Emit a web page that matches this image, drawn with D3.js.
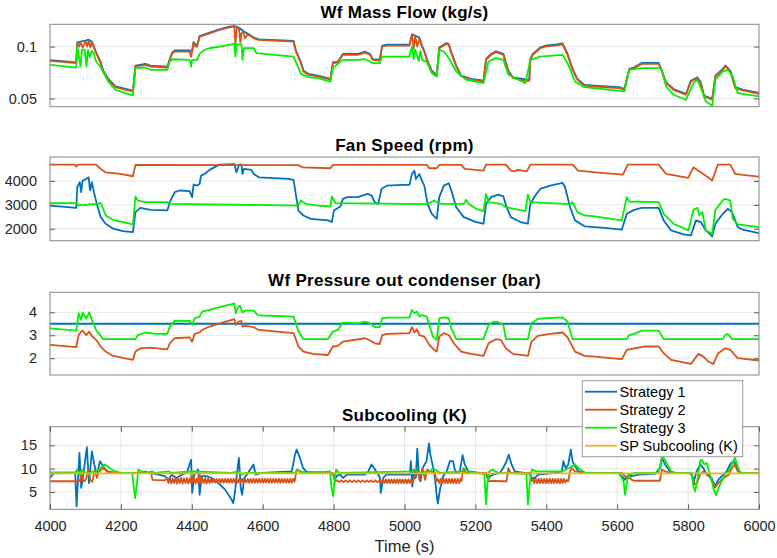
<!DOCTYPE html>
<html><head><meta charset="utf-8">
<script src="https://cdn.jsdelivr.net/npm/d3@7"></script>
<style>body{margin:0;background:#fff}svg{display:block}</style>
</head><body><svg id="c" width="777" height="558"></svg>
<script>
const timeTicks=[4000,4200,4400,4600,4800,5000,5200,5400,5600,5800,6000];
const seriesNames=["Strategy 1","Strategy 2","Strategy 3","SP Subcooling (K)"];
const titles=["Wf Mass Flow (kg/s)","Fan Speed (rpm)","Wf Pressure out condenser (bar)","Subcooling (K)"];
const massTicks=[0.05,0.1];
const fanTicks=[2000,3000,4000];
const presTicks=[2,3,4];
const subTicks=[5,10,15];

const massS1=[[4000,0.0870],[4074,0.0848],[4077,0.1040],[4086,0.1048],[4100,0.1058],[4109,0.1066],[4118,0.1048],[4123,0.1008],[4130,0.0944],[4143,0.0850],[4150,0.0770],[4164,0.0690],[4185,0.0617],[4213,0.0591],[4234,0.0575],[4241,0.0816],[4269,0.0833],[4283,0.0817],[4331,0.0806],[4338,0.0880],[4345,0.0944],[4352,0.0962],[4394,0.0962],[4401,0.0960],[4405,0.1044],[4415,0.1008],[4422,0.1102],[4450,0.1134],[4478,0.1166],[4506,0.1192],[4520,0.1198],[4533,0.1182],[4545,0.1150],[4561,0.1118],[4575,0.1086],[4589,0.1070],[4687,0.1054],[4694,0.0958],[4708,0.0848],[4715,0.0768],[4728,0.0737],[4756,0.0720],[4791,0.0688],[4798,0.0848],[4812,0.0854],[4826,0.0929],[4868,0.0929],[4889,0.0951],[4903,0.0929],[4910,0.0880],[4930,0.0873],[4937,0.1008],[4951,0.1018],[5014,0.1018],[5021,0.1118],[5042,0.1088],[5049,0.1008],[5056,0.0958],[5063,0.0880],[5077,0.0768],[5091,0.0726],[5098,0.0992],[5118,0.1034],[5125,0.1024],[5132,0.0944],[5146,0.0816],[5160,0.0720],[5188,0.0688],[5223,0.0671],[5230,0.0880],[5244,0.0929],[5258,0.0955],[5279,0.0929],[5293,0.0768],[5306,0.0704],[5352,0.0678],[5355,0.0880],[5362,0.0929],[5383,0.0992],[5397,0.1008],[5425,0.1018],[5446,0.1030],[5460,0.0929],[5474,0.0784],[5488,0.0688],[5508,0.0630],[5536,0.0623],[5606,0.0608],[5620,0.0591],[5634,0.0784],[5648,0.0800],[5669,0.0842],[5717,0.0842],[5724,0.0784],[5738,0.0655],[5759,0.0591],[5794,0.0543],[5808,0.0671],[5826,0.0704],[5836,0.0655],[5845,0.0527],[5868,0.0495],[5877,0.0720],[5898,0.0784],[5905,0.0817],[5919,0.0768],[5933,0.0608],[5954,0.0585],[6000,0.0553]];
const massS2=[[4000,0.0862],[4074,0.0840],[4077,0.1032],[4082,0.1000],[4086,0.1040],[4092,0.0990],[4100,0.1050],[4105,0.1000],[4109,0.1060],[4114,0.0990],[4118,0.1040],[4123,0.1000],[4130,0.0936],[4143,0.0840],[4150,0.0760],[4164,0.0680],[4185,0.0609],[4213,0.0583],[4234,0.0567],[4241,0.0808],[4269,0.0824],[4283,0.0808],[4331,0.0798],[4338,0.0872],[4345,0.0936],[4352,0.0952],[4394,0.0952],[4398,0.0900],[4401,0.0952],[4405,0.1038],[4410,0.1000],[4415,0.1000],[4422,0.1096],[4450,0.1128],[4478,0.1160],[4506,0.1186],[4520,0.1192],[4523,0.1020],[4527,0.1180],[4533,0.1176],[4537,0.1040],[4540,0.1128],[4545,0.1144],[4550,0.1080],[4556,0.1112],[4561,0.1112],[4575,0.1080],[4589,0.1064],[4687,0.1048],[4694,0.0950],[4708,0.0840],[4715,0.0760],[4728,0.0728],[4756,0.0712],[4791,0.0680],[4798,0.0840],[4812,0.0846],[4826,0.0920],[4868,0.0920],[4889,0.0942],[4903,0.0920],[4910,0.0872],[4930,0.0865],[4937,0.1000],[4951,0.1010],[5014,0.1010],[5021,0.1112],[5026,0.0980],[5030,0.1100],[5036,0.1000],[5042,0.1080],[5049,0.1000],[5056,0.0950],[5063,0.0872],[5077,0.0760],[5091,0.0718],[5098,0.0984],[5118,0.1026],[5125,0.1016],[5132,0.0936],[5146,0.0808],[5160,0.0712],[5188,0.0680],[5223,0.0663],[5230,0.0872],[5244,0.0920],[5258,0.0946],[5279,0.0920],[5293,0.0760],[5306,0.0696],[5341,0.0670],[5352,0.0670],[5355,0.0872],[5362,0.0920],[5383,0.0984],[5397,0.1000],[5425,0.1010],[5446,0.1022],[5460,0.0920],[5474,0.0776],[5488,0.0680],[5508,0.0622],[5536,0.0615],[5606,0.0600],[5620,0.0583],[5634,0.0776],[5648,0.0792],[5669,0.0833],[5717,0.0833],[5724,0.0776],[5738,0.0647],[5759,0.0583],[5794,0.0535],[5808,0.0663],[5826,0.0696],[5836,0.0647],[5845,0.0519],[5868,0.0487],[5877,0.0712],[5898,0.0776],[5905,0.0808],[5919,0.0760],[5933,0.0600],[5954,0.0577],[6000,0.0545]];
const massS3=[[4000,0.0824],[4074,0.0798],[4077,0.1000],[4082,0.0900],[4086,0.0808],[4090,0.0970],[4098,0.0968],[4103,0.0808],[4107,0.0968],[4112,0.0900],[4118,0.0960],[4123,0.0936],[4130,0.0856],[4143,0.0800],[4164,0.0663],[4185,0.0583],[4213,0.0551],[4234,0.0529],[4241,0.0792],[4269,0.0798],[4283,0.0776],[4331,0.0776],[4338,0.0856],[4345,0.0878],[4394,0.0872],[4398,0.0808],[4401,0.0872],[4415,0.0872],[4422,0.0930],[4436,0.0968],[4450,0.0984],[4478,0.1000],[4520,0.1026],[4523,0.0904],[4527,0.1020],[4540,0.1020],[4543,0.0872],[4547,0.0984],[4575,0.0984],[4582,0.0936],[4687,0.0904],[4694,0.0850],[4708,0.0737],[4728,0.0705],[4756,0.0696],[4791,0.0663],[4798,0.0792],[4826,0.0872],[4868,0.0872],[4889,0.0878],[4903,0.0856],[4910,0.0840],[4930,0.0840],[4937,0.0904],[5014,0.0904],[5021,0.1000],[5026,0.0880],[5030,0.0970],[5040,0.0860],[5045,0.0960],[5049,0.0872],[5063,0.0850],[5077,0.0744],[5091,0.0712],[5098,0.0968],[5111,0.0952],[5125,0.0888],[5146,0.0760],[5174,0.0680],[5223,0.0647],[5237,0.0856],[5258,0.0888],[5279,0.0872],[5293,0.0728],[5341,0.0647],[5355,0.0872],[5383,0.0904],[5446,0.0920],[5460,0.0840],[5481,0.0663],[5508,0.0609],[5620,0.0567],[5634,0.0776],[5669,0.0792],[5724,0.0792],[5738,0.0615],[5759,0.0535],[5794,0.0487],[5815,0.0647],[5826,0.0680],[5836,0.0600],[5850,0.0471],[5868,0.0430],[5877,0.0680],[5898,0.0760],[5912,0.0776],[5926,0.0712],[5940,0.0551],[6000,0.0519]];

const fanS1=[[4000,2970],[4074,2875],[4077,3735],[4084,3945],[4088,3530],[4092,4010],[4102,4080],[4109,4150],[4113,3600],[4118,3945],[4124,3530],[4132,3040],[4143,2485],[4157,2210],[4178,2000],[4206,1900],[4234,1860],[4241,2695],[4255,2875],[4283,2790],[4331,2765],[4338,3110],[4352,3530],[4366,3600],[4394,3570],[4401,3320],[4405,3850],[4415,3805],[4422,3870],[4426,4220],[4436,4290],[4450,4460],[4478,4680],[4520,4700],[4526,4360],[4533,4680],[4540,4680],[4543,4290],[4547,4500],[4568,4460],[4575,4290],[4589,4150],[4673,4085],[4687,4040],[4701,2750],[4715,2555],[4735,2415],[4784,2350],[4795,2280],[4801,2765],[4819,2930],[4826,3250],[4840,3320],[4868,3320],[4896,3460],[4907,3390],[4916,3110],[4926,3040],[4935,3665],[4951,3805],[4993,3835],[5014,3835],[5021,4290],[5028,4430],[5032,4080],[5042,4290],[5049,4010],[5056,3805],[5065,3040],[5077,2625],[5091,2415],[5098,3320],[5111,3805],[5125,3900],[5132,3600],[5146,2900],[5167,2485],[5202,2280],[5223,2210],[5230,3040],[5244,3320],[5265,3430],[5279,3350],[5288,2900],[5300,2485],[5327,2280],[5348,2210],[5355,3040],[5369,3390],[5383,3665],[5411,3805],[5446,3915],[5453,3735],[5467,2900],[5481,2350],[5508,2100],[5564,2040],[5613,1960],[5627,2625],[5648,2790],[5669,2875],[5717,2875],[5731,2350],[5752,1930],[5787,1765],[5808,1720],[5822,2350],[5836,2280],[5850,1930],[5868,1680],[5877,2210],[5898,2625],[5912,2835],[5924,2695],[5940,2070],[5954,1960],[6000,1820]];
const fanS2=[[4000,4680],[4070,4680],[4074,4600],[4078,4680],[4130,4680],[4143,4500],[4157,4360],[4199,4290],[4234,4195],[4241,4670],[4700,4660],[4712,4570],[4791,4530],[4798,4670],[5063,4670],[5070,4530],[5091,4530],[5098,4670],[5160,4670],[5170,4500],[5223,4430],[5230,4680],[5286,4680],[5300,4430],[5310,4400],[5320,4460],[5345,4400],[5355,4680],[5474,4680],[5490,4430],[5540,4360],[5616,4265],[5630,4680],[5717,4680],[5738,4290],[5800,4125],[5815,4570],[5829,4430],[5850,4220],[5868,4015],[5884,4680],[5919,4680],[5933,4290],[5954,4250],[6000,4180]];
const fanS3=[[4000,3070],[4074,3070],[4081,2970],[4090,3010],[4100,2990],[4110,3020],[4136,3040],[4143,3080],[4150,2835],[4157,2555],[4178,2375],[4234,2180],[4241,3350],[4248,3180],[4269,3110],[4331,3110],[4338,3040],[4700,2970],[4708,3180],[4721,3040],[4756,2970],[4791,2930],[4795,3350],[4805,3070],[5063,3030],[5084,3180],[5091,3110],[5104,3040],[5167,3040],[5174,3210],[5181,3040],[5202,2835],[5223,2740],[5230,3460],[5237,3110],[5272,3040],[5286,2900],[5341,2740],[5348,3430],[5355,3110],[5467,3030],[5474,3110],[5488,2695],[5508,2555],[5536,2515],[5613,2350],[5627,3320],[5634,3140],[5717,3110],[5731,2625],[5759,2210],[5801,1930],[5815,2790],[5826,2875],[5832,2555],[5840,2700],[5850,1930],[5868,1790],[5877,2790],[5899,3210],[5905,3250],[5919,3180],[5926,2415],[5940,2180],[6000,2070]];

const presS1=[[4000,3.5],[6000,3.5]];
const presS2=[[4000,2.58],[4074,2.48],[4081,3.01],[4088,3.16],[4092,3.20],[4102,3.01],[4111,3.16],[4118,2.97],[4130,2.80],[4143,2.51],[4157,2.29],[4178,2.10],[4213,1.99],[4234,1.93],[4241,2.29],[4255,2.43],[4283,2.46],[4331,2.39],[4338,2.65],[4352,2.87],[4394,2.91],[4401,2.72],[4408,3.06],[4422,3.12],[4429,3.23],[4450,3.38],[4478,3.52],[4506,3.64],[4520,3.70],[4524,3.45],[4531,3.59],[4540,3.62],[4543,3.38],[4550,3.41],[4575,3.35],[4589,3.23],[4687,3.09],[4701,2.51],[4715,2.29],[4742,2.19],[4784,2.14],[4798,2.51],[4812,2.54],[4826,2.72],[4889,2.87],[4903,2.77],[4916,2.65],[4930,2.62],[4937,3.01],[4951,3.06],[5014,3.09],[5021,3.35],[5028,3.12],[5035,3.26],[5042,3.01],[5056,2.94],[5070,2.58],[5084,2.36],[5091,2.29],[5098,2.94],[5111,3.09],[5125,3.01],[5139,2.65],[5160,2.29],[5188,2.19],[5223,2.10],[5237,2.65],[5258,2.83],[5272,2.80],[5286,2.43],[5306,2.19],[5348,2.10],[5358,2.72],[5376,2.97],[5411,3.06],[5446,3.12],[5460,2.91],[5481,2.29],[5508,2.10],[5536,2.07],[5613,1.96],[5627,2.36],[5648,2.43],[5676,2.51],[5717,2.51],[5731,2.22],[5752,1.93],[5808,1.75],[5829,2.19],[5843,2.07],[5857,1.86],[5871,1.75],[5885,2.22],[5905,2.43],[5919,2.36],[5940,2.00],[6000,1.90]];
const presS3=[[4000,3.30],[4074,3.20],[4081,3.96],[4088,3.67],[4092,3.99],[4102,3.74],[4111,3.99],[4118,3.67],[4130,3.23],[4150,2.83],[4241,2.83],[4248,3.01],[4269,3.12],[4297,3.06],[4331,3.06],[4338,3.38],[4352,3.64],[4394,3.62],[4401,3.45],[4408,3.74],[4422,3.81],[4429,4.03],[4450,4.10],[4478,4.22],[4513,4.36],[4520,4.39],[4524,3.96],[4531,4.25],[4536,4.28],[4543,3.99],[4550,4.07],[4575,4.07],[4586,3.88],[4603,3.86],[4687,3.81],[4701,3.16],[4715,2.83],[4784,2.83],[4798,3.16],[4812,3.23],[4826,3.55],[4868,3.52],[4889,3.59],[4903,3.52],[4916,3.35],[4930,3.35],[4937,3.74],[4951,3.77],[5014,3.77],[5021,4.10],[5028,3.96],[5035,4.03],[5042,3.81],[5049,3.88],[5063,3.81],[5070,3.45],[5080,2.94],[5091,2.80],[5098,3.74],[5111,3.78],[5125,3.74],[5132,3.30],[5146,2.83],[5223,2.83],[5237,3.45],[5251,3.59],[5265,3.57],[5279,3.45],[5286,2.83],[5348,2.83],[5358,3.52],[5376,3.71],[5397,3.74],[5446,3.78],[5460,3.59],[5474,2.83],[5627,2.83],[5634,3.01],[5648,3.06],[5669,3.20],[5717,3.20],[5731,2.83],[5898,2.83],[5905,3.01],[5912,3.06],[5924,2.83],[6000,2.83]];

const subS1=[[4000,8.0],[4010,9.0],[4071,9.1],[4075,1.9],[4083,13.4],[4088,5.9],[4094,8.7],[4104,14.6],[4110,6.9],[4118,13.7],[4125,10.9],[4132,8.7],[4141,11.6],[4150,10.5],[4160,9.4],[4174,9.1],[4260,9.1],[4268,9.4],[4277,9.1],[4306,8.7],[4324,8.4],[4334,7.6],[4343,8.7],[4357,8.0],[4371,8.7],[4386,9.1],[4398,11.9],[4401,4.8],[4407,8.7],[4418,9.8],[4422,4.4],[4428,8.4],[4442,8.4],[4456,8.0],[4475,6.9],[4494,5.5],[4512,3.4],[4517,2.6],[4522,5.1],[4527,8.7],[4533,12.3],[4538,5.9],[4542,4.4],[4548,8.0],[4559,9.1],[4574,10.9],[4580,8.7],[4597,9.1],[4682,9.4],[4691,13.0],[4696,14.1],[4705,12.3],[4714,10.1],[4724,9.3],[4790,9.1],[4799,8.7],[4804,7.6],[4808,8.4],[4818,8.7],[4827,8.0],[4837,8.7],[4888,8.7],[4898,9.4],[4907,10.9],[4917,9.8],[4926,8.7],[4931,8.0],[4933,4.8],[4940,8.0],[4949,8.7],[5015,8.7],[5018,11.6],[5022,6.2],[5026,9.8],[5032,8.0],[5036,14.3],[5040,9.4],[5045,7.3],[5051,10.1],[5062,11.6],[5069,15.4],[5073,13.0],[5081,10.1],[5086,8.0],[5090,4.8],[5094,2.5],[5100,5.5],[5109,8.4],[5119,9.4],[5128,11.6],[5137,11.6],[5142,9.8],[5147,9.1],[5156,9.4],[5164,12.9],[5170,10.9],[5180,9.4],[5213,9.1],[5231,8.7],[5236,7.6],[5241,8.4],[5250,8.7],[5269,9.1],[5278,10.1],[5288,11.6],[5294,13.0],[5302,10.9],[5311,9.4],[5354,8.9],[5358,8.0],[5368,8.0],[5377,8.7],[5425,9.1],[5444,9.4],[5448,11.6],[5455,10.1],[5462,10.9],[5469,14.1],[5474,11.6],[5481,10.5],[5491,9.4],[5510,9.1],[5603,9.1],[5618,8.0],[5622,7.6],[5632,8.7],[5641,8.4],[5660,8.7],[5707,8.9],[5721,10.1],[5726,12.3],[5735,10.9],[5749,9.4],[5763,9.1],[5801,9.1],[5810,8.7],[5815,6.9],[5824,9.4],[5834,10.9],[5843,10.1],[5853,8.7],[5866,8.0],[5876,6.2],[5885,7.6],[5895,8.4],[5909,9.4],[5918,10.9],[5928,11.6],[5937,10.5],[5946,9.1],[6000,9.1]];
const subS2=[[4000,7.3],[4075,7.3],[4080,7.6],[4085,7.2],[4089,9.3],[4094,7.2],[4101,7.6],[4108,9.8],[4113,7.6],[4119,7.2],[4127,9.8],[4132,8.0],[4138,9.4],[4150,10.1],[4165,9.4],[4183,9.1],[4285,9.1],[4289,7.6],[4324,7.5],
[4330,7.9],[4334,6.9],[4338,8.0],[4342,6.8],[4346,7.9],[4350,6.9],[4354,8.0],[4358,6.8],[4362,7.9],[4366,6.9],[4370,8.0],[4374,6.8],[4378,7.9],[4382,6.9],[4386,8.0],[4390,6.8],[4394,7.9],[4398,6.9],[4400,9.5],[4402,6.9],[4406,8.0],[4410,6.8],[4414,7.9],[4418,6.9],[4422,9.0],[4426,6.8],[4430,7.9],[4434,6.9],[4438,8.0],[4442,6.8],[4446,7.9],[4450,6.9],
[4454,7.8],[4458,7.0],[4462,7.8],[4466,7.0],[4470,7.8],[4474,7.0],[4478,7.8],[4482,7.0],[4486,7.8],[4490,7.0],[4494,7.8],[4498,7.0],[4502,7.8],[4506,7.0],[4510,7.8],[4514,7.0],[4518,7.8],[4522,7.0],[4526,7.8],[4530,7.0],[4534,7.8],[4538,7.0],[4542,7.8],[4546,7.0],[4550,7.8],[4554,7.0],[4558,7.8],[4562,7.0],[4566,7.8],[4570,7.0],[4574,7.8],[4578,7.0],[4582,7.8],[4586,7.0],[4590,7.8],[4594,7.0],[4598,7.8],[4602,7.0],[4606,7.8],[4610,7.0],[4614,7.8],[4618,7.0],[4622,7.8],[4626,7.0],[4630,7.8],[4634,7.0],[4638,7.8],[4642,7.0],[4646,7.8],[4650,7.0],[4654,7.8],[4658,7.0],[4662,7.8],[4666,7.0],[4670,7.8],[4674,7.0],[4678,7.8],[4682,7.0],[4686,7.8],[4690,7.2],
[4696,9.8],[4705,9.4],[4724,9.1],[4799,9.1],[4804,7.3],[4810,7.5],[4816,7.1],[4822,7.5],[4828,7.1],[4834,7.5],[4840,7.1],[4846,7.5],[4852,7.1],[4858,7.5],[4864,7.1],[4870,7.5],[4876,7.1],[4882,7.5],[4888,7.1],[4894,7.5],[4900,7.1],[4906,7.5],[4912,7.1],[4918,7.5],[4924,7.1],[4931,7.5],
[4935,6.9],[4939,7.7],[4943,6.9],[4947,7.7],[4951,6.9],[4955,7.7],[4959,6.9],[4963,7.7],[4967,6.9],[4971,7.7],[4975,6.9],[4979,7.7],[4983,6.9],[4987,7.7],[4991,6.9],[4995,7.7],[4999,6.9],[5003,7.7],[5007,6.9],[5011,7.7],[5015,6.9],[5019,7.7],[5023,6.9],[5025,7.4],
[5029,8.4],[5036,9.8],[5042,7.6],[5051,10.1],[5058,7.6],[5064,9.8],[5072,9.4],[5086,9.1],[5090,7.3],
[5094,7.8],[5098,6.9],[5102,7.8],[5106,6.9],[5110,7.8],[5114,6.9],[5118,7.8],[5122,6.9],[5126,7.8],[5130,6.9],[5134,7.8],[5138,6.9],[5142,7.8],[5146,6.9],[5150,7.8],[5154,6.9],[5158,7.8],[5161,7.4],
[5166,10.1],[5173,9.1],[5231,9.1],[5236,7.3],[5250,7.4],[5270,7.3],[5288,7.3],[5293,10.1],[5299,9.1],[5354,9.1],[5358,7.3],
[5362,7.8],[5366,6.9],[5370,7.8],[5374,6.9],[5378,7.8],[5382,6.9],[5386,7.8],[5390,6.9],[5394,7.8],[5398,6.9],[5402,7.8],[5406,6.9],[5410,7.8],[5414,6.9],[5418,7.8],[5422,6.9],[5426,7.8],[5430,6.9],[5434,7.8],[5438,6.9],[5442,7.8],[5446,6.9],[5450,7.8],[5454,7.0],[5458,7.6],[5462,7.3],
[5467,9.4],[5472,10.1],[5481,9.4],[5510,9.1],[5613,9.1],[5627,8.0],[5636,8.1],[5641,7.6],[5650,7.4],[5720,7.4],[5726,9.8],[5735,9.4],[5750,9.1],[5810,9.1],[5818,6.6],[5825,6.9],[5834,8.7],[5843,9.4],[5857,8.7],[5866,7.6],[5876,5.9],[5885,6.9],[5900,8.0],[5915,8.7],[5923,10.1],[5932,10.9],[5940,9.4],[5952,9.1],[6000,9.1]];
const subS3=[[4000,9.2],[4071,9.2],[4077,9.8],[4083,8.7],[4089,9.8],[4099,9.1],[4108,8.7],[4118,9.4],[4127,9.1],[4141,10.1],[4155,10.9],[4169,10.1],[4183,9.4],[4202,9.1],[4232,9.1],[4236,6.2],[4240,3.7],[4245,6.6],[4249,9.8],[4259,9.4],[4273,9.1],[4287,9.4],[4296,9.1],[4334,9.4],[4343,9.1],[4395,9.4],[4400,8.7],[4404,9.4],[4512,9.1],[4531,9.4],[4541,8.7],[4550,9.1],[4691,9.1],[4699,9.8],[4710,9.1],[4724,9.1],[4790,9.4],[4794,5.9],[4799,4.1],[4802,6.9],[4807,9.8],[4816,9.1],[5025,9.4],[5029,9.8],[5039,9.1],[5072,9.4],[5081,10.1],[5090,9.6],[5100,9.1],[5161,9.4],[5170,10.0],[5180,9.3],[5225,8.9],[5228,5.1],[5230,2.3],[5234,6.9],[5239,9.4],[5248,9.8],[5264,9.1],[5344,8.9],[5348,2.3],[5354,7.3],[5359,9.8],[5372,9.4],[5444,9.4],[5463,10.1],[5481,10.9],[5491,10.1],[5510,9.1],[5604,9.1],[5618,7.3],[5622,4.4],[5627,6.9],[5632,8.7],[5650,9.1],[5716,9.1],[5724,11.6],[5728,12.6],[5735,11.9],[5744,10.5],[5753,9.4],[5763,9.1],[5810,9.1],[5815,6.2],[5820,5.1],[5827,8.0],[5834,11.6],[5838,11.9],[5846,10.9],[5853,11.2],[5859,9.4],[5867,7.3],[5874,5.1],[5879,4.3],[5886,5.9],[5895,7.3],[5904,8.7],[5914,9.4],[5923,10.9],[5932,12.3],[5940,10.5],[5947,9.1],[6000,9.1]];
const subSP=[[4000,9.0],[6000,9.0]];

const colors=["#0072BD","#D95319","#00F000","#EDB120"];
const L=50,R=759;
const FONT="'Liberation Sans', Arial, Helvetica, sans-serif";
const svg=d3.select("#c");
svg.append("rect").attr("width",777).attr("height",558).attr("fill","#fff");
const x=d3.scaleLinear().domain([4000,6000]).range([L,R]);

const panels=[
 {title:titles[0],top:24.3,bottom:106.7,domain:[0.042,0.1215],ticks:massTicks,series:[massS1,massS2,massS3],vgrid:false},
 {title:titles[1],top:157,bottom:240.7,domain:[1500,5000],ticks:fanTicks,series:[fanS1,fanS2,fanS3],vgrid:false},
 {title:titles[2],top:292.3,bottom:375,domain:[1.27,4.87],ticks:presTicks,series:[presS1,presS2,presS3],vgrid:false},
 {title:titles[3],top:426.7,bottom:509.3,domain:[1.28,19.0],ticks:subTicks,series:[subS1,subS2,subS3,subSP],vgrid:true}
];

panels.forEach((p,i)=>{
  const y=d3.scaleLinear().domain(p.domain).range([p.bottom,p.top]);
  const g=svg.append("g");
  const cid="clip"+i;
  svg.append("clipPath").attr("id",cid).append("rect")
    .attr("x",L).attr("y",p.top).attr("width",R-L).attr("height",p.bottom-p.top);
  g.selectAll(".hg").data(p.ticks).join("line")
    .attr("x1",L).attr("x2",R).attr("y1",d=>y(d)).attr("y2",d=>y(d))
    .attr("stroke","#e6e6e6").attr("stroke-width",1);
  if(p.vgrid){
    g.selectAll(".vg").data(timeTicks).join("line")
      .attr("x1",d=>x(d)).attr("x2",d=>x(d)).attr("y1",p.top).attr("y2",p.bottom)
      .attr("stroke","#e6e6e6").attr("stroke-width",1);
  }
  const line=d3.line().x(d=>x(d[0])).y(d=>y(d[1]));
  const lg=g.append("g").attr("clip-path","url(#"+cid+")");
  p.series.forEach((s,k)=>{
    lg.append("path").datum(s).attr("d",line).attr("fill","none")
      .attr("stroke",colors[k]).attr("stroke-width",1.8).attr("stroke-linejoin","round");
  });
  g.append("rect").attr("x",L).attr("y",p.top).attr("width",R-L).attr("height",p.bottom-p.top)
    .attr("fill","none").attr("stroke","#858585").attr("stroke-width",1);
  const yl=d3.axisLeft(y).tickValues(p.ticks).tickSize(-5).tickPadding(13).tickFormat(d=>String(d));
  const ya=g.append("g").attr("transform","translate("+L+",0)").call(yl);
  ya.select(".domain").remove();
  ya.selectAll(".tick line").attr("stroke","#5a5a5a");
  ya.selectAll(".tick text").attr("font-family",FONT).attr("font-size","14.5px").attr("fill","#262626");
  const yr=d3.axisRight(y).tickValues(p.ticks).tickSize(-5).tickFormat("");
  const yra=g.append("g").attr("transform","translate("+R+",0)").call(yr);
  yra.select(".domain").remove();
  yra.selectAll(".tick line").attr("stroke","#5a5a5a");
  svg.append("text").attr("x",(L+R)/2).attr("y",p.top-6).attr("text-anchor","middle")
    .attr("font-family",FONT).attr("font-weight","bold").attr("font-size","17px")
    .attr("letter-spacing","0.3px").attr("fill","#000").text(p.title);
  if(i===3){
    const xa=g.append("g").attr("transform","translate(0,"+p.bottom+")")
      .call(d3.axisBottom(x).tickValues(timeTicks).tickSize(-5).tickPadding(11).tickFormat(d=>String(d)));
    xa.select(".domain").remove();
    xa.selectAll(".tick line").attr("stroke","#5a5a5a");
    xa.selectAll(".tick text").attr("font-family",FONT).attr("font-size","14.5px").attr("fill","#262626");
    const xt=g.append("g").attr("transform","translate(0,"+p.top+")")
      .call(d3.axisTop(x).tickValues(timeTicks).tickSize(-5).tickFormat(""));
    xt.select(".domain").remove();
    xt.selectAll(".tick line").attr("stroke","#5a5a5a");
    svg.append("text").attr("x",(L+R)/2).attr("y",552).attr("text-anchor","middle")
      .attr("font-family",FONT).attr("font-size","16.5px").attr("fill","#262626").text("Time (s)");
  }
});

const lgd=svg.append("g");
lgd.append("rect").attr("x",582.3).attr("y",380.7).attr("width",160.4).attr("height",76)
  .attr("fill","#fff").attr("stroke","#9a9a9a").attr("stroke-width",1);
const rowY=d3.scaleLinear().domain([0,3]).range([391.7,445.7]);
seriesNames.forEach((n,k)=>{
  lgd.append("line").attr("x1",585).attr("x2",617).attr("y1",rowY(k)).attr("y2",rowY(k))
    .attr("stroke",colors[k]).attr("stroke-width",1.8);
  lgd.append("text").attr("x",619.5).attr("y",rowY(k)).attr("dy","0.36em")
    .attr("font-family",FONT).attr("font-size","14.5px").attr("fill","#000").text(n);
});
</script></body></html>
